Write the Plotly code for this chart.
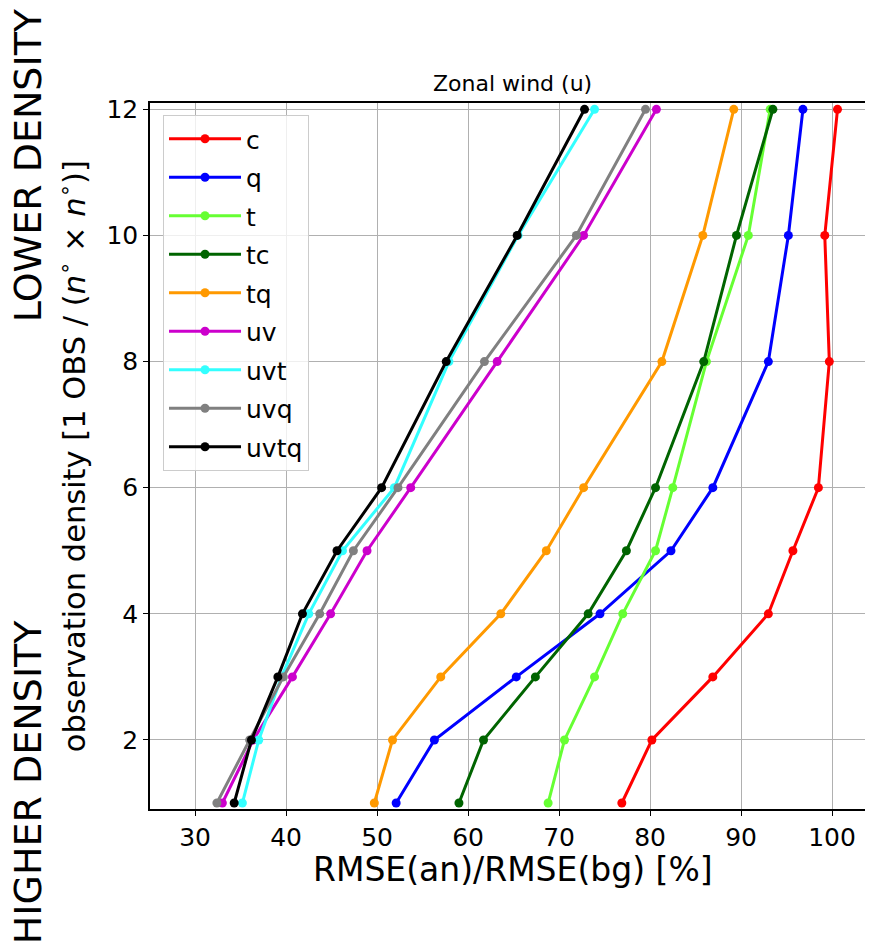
import plotly.graph_objects as go

# observation density levels (degrees)
density = [1, 2, 3, 4, 5, 6, 8, 10, 12]

# RMSE(an)/RMSE(bg) [%] for each observation set
c_vals = [76.9, 80.2, 86.9, 93.0, 95.7, 98.5, 99.7, 99.2, 100.6]
q_vals = [52.1, 56.3, 65.3, 74.5, 82.3, 86.9, 93.0, 95.2, 96.8]
t_vals = [68.8, 70.6, 73.9, 77.0, 80.6, 82.5, 86.2, 90.8, 93.2]
tc_vals = [59.0, 61.7, 67.4, 73.2, 77.4, 80.6, 85.9, 89.5, 93.5]
tq_vals = [49.7, 51.7, 57.0, 63.6, 68.6, 72.7, 81.3, 85.8, 89.2]
uv_vals = [33.0, 36.4, 40.7, 44.9, 48.9, 53.7, 63.2, 72.7, 80.7]
uvt_vals = [35.2, 37.0, 39.5, 42.5, 46.2, 51.9, 57.9, 65.5, 73.9]
uvq_vals = [32.4, 36.0, 39.7, 43.7, 47.4, 52.3, 61.8, 71.9, 79.5]
uvtq_vals = [34.3, 36.2, 39.1, 41.8, 45.6, 50.5, 57.6, 65.4, 72.8]

series = [
    ('c', c_vals, '#ff0000'),
    ('q', q_vals, '#0000ff'),
    ('t', t_vals, '#66ff33'),
    ('tc', tc_vals, '#006400'),
    ('tq', tq_vals, '#ff9900'),
    ('uv', uv_vals, '#cc00cc'),
    ('uvt', uvt_vals, '#33ffff'),
    ('uvq', uvq_vals, '#808080'),
    ('uvtq', uvtq_vals, '#000000'),
]

x_ticks = [30, 40, 50, 60, 70, 80, 90, 100]
y_ticks = [2, 4, 6, 8, 10, 12]

FONT = 'DejaVu Sans'

fig = go.Figure()

for name, vals, color in series:
    fig.add_trace(go.Scatter(
        x=vals, y=density,
        mode='lines+markers',
        name=name,
        legendgroup=name,
        line=dict(width=3, color=color),
        marker=dict(size=9, color=color),
    ))

axis_common = dict(
    showline=True, linecolor='black', linewidth=1.5,
    showgrid=True, gridcolor='#b0b0b0', gridwidth=1.2,
    ticks='outside', ticklen=5, tickwidth=1.2, tickcolor='black',
    tickfont=dict(family=FONT, size=25, color='black'),
    zeroline=False,
)

fig.update_xaxes(range=[25.05, 104.5], tickvals=x_ticks, mirror=True, **axis_common)
fig.update_yaxes(range=[0.905, 12.1], tickvals=y_ticks, **axis_common)


def label(text, x, y, size, angle=0):
    return dict(text=text, xref='paper', yref='paper', x=x, y=y,
                xanchor='center', yanchor='middle', textangle=angle,
                showarrow=False, font=dict(family=FONT, size=size, color='black'))


# page body has an 8px margin, so the figure is 8px smaller than the window
fig.update_layout(
    width=865, height=941,
    margin=dict(l=142, r=0, t=95, b=140),
    plot_bgcolor='white',
    paper_bgcolor='white',
    font=dict(family=FONT, color='black'),
    legend=dict(
        x=0.018, y=0.983, xanchor='left', yanchor='top',
        font=dict(family=FONT, size=25, color='black'),
        bgcolor='rgba(255,255,255,0.8)',
        bordercolor='#cccccc', borderwidth=1,
        tracegroupgap=3,
        itemwidth=72,
    ),
    annotations=[
        label('Zonal wind (u)', 0.502, 1.027, 22),
        label('RMSE(an)/RMSE(bg) [%]', 0.502, -0.085, 33),
        label('observation density [1 OBS / (<i>n</i><sup>∘</sup> × <i>n</i><sup>∘</sup>)]',
              -0.1075, 0.5, 30.5, -90),
        label('LOWER DENSITY', -0.1687, 0.912, 38, -90),
        label('HIGHER DENSITY', -0.1687, 0.038, 38, -90),
    ],
)

fig.write_html("out.html")
